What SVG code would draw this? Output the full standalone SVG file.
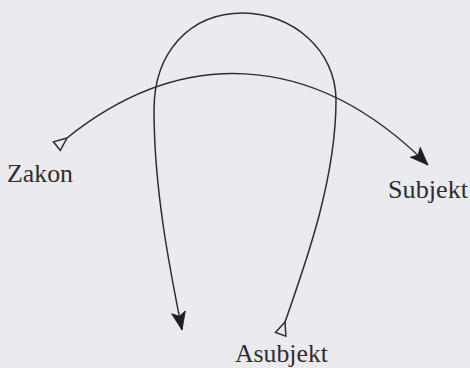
<svg xmlns="http://www.w3.org/2000/svg" width="470" height="368" viewBox="0 0 470 368">
  <style>
    .bg { fill: #ebeaee; }
    .edge { fill: none; stroke: #2e2e2e; stroke-width: 1.5; }
    .label { font-family: "Liberation Serif", "Times New Roman", serif; font-size: 26px; fill: #2e2e2e; }
  </style>
  <defs>
    <marker id="tail" markerUnits="userSpaceOnUse" markerWidth="30" markerHeight="30" viewBox="-15 -15 30 30" refX="0" refY="0" orient="auto" overflow="visible">
      <path d="M0,0 L-13,-5.5 L-13,5.5 Z" fill="#ebeaee" stroke="#2e2e2e" stroke-width="1.5" stroke-linejoin="miter"/>
    </marker>
    <marker id="head" markerUnits="userSpaceOnUse" markerWidth="30" markerHeight="30" viewBox="-20 -15 30 30" refX="0" refY="0" orient="auto" overflow="visible">
      <path d="M0,0 L-18,-7 L-14,0 L-18,7 Z" fill="#1e1e1e" stroke="#1e1e1e" stroke-width="0.8" stroke-linejoin="miter"/>
    </marker>
  </defs>
  <rect class="bg" x="0" y="0" width="470" height="368"/>
  <g id="connectors">
    <path id="zakon-subjekt" class="edge" d="M67,138 C178,49 310,47 428,165" marker-start="url(#tail)" marker-end="url(#head)"/>
    <path id="asubjekt-loop" class="edge" d="M285,322 C305,265 336,180 336,100 C336,50 292,13 243,13 C190,13 154,52 154,110 C154,190 170,270 182,330" marker-start="url(#tail)" marker-end="url(#head)"/>
  </g>
  <g id="zakon">
    <text class="label" x="7" y="182" textLength="66" lengthAdjust="spacingAndGlyphs">Zakon</text>
  </g>
  <g id="subjekt">
    <text class="label" x="388" y="198" textLength="80" lengthAdjust="spacingAndGlyphs">Subjekt</text>
  </g>
  <g id="asubjekt">
    <text class="label" x="235" y="362" textLength="93" lengthAdjust="spacingAndGlyphs">Asubjekt</text>
  </g>
</svg>
